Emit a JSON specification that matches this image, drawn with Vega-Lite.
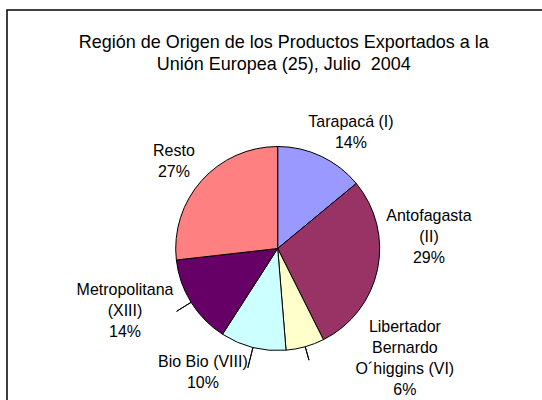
{
  "$schema": "https://vega.github.io/schema/vega-lite/v6.json",
  "width": 541.4,
  "height": 477,
  "autosize": {"type": "none"},
  "padding": {"left": 7, "top": 10, "right": 0, "bottom": 0},
  "background": "white",
  "view": {"stroke": "black", "strokeWidth": 1.5},
  "config": {
    "view": {"stroke": "black", "strokeWidth": 1.5},
    "font": "Liberation Sans",
    "text": {"font": "Liberation Sans"}
  },
  "title": {
    "text": ["Región de Origen de los Productos Exportados a la", "Unión Europea (25), Julio \u00a02004"],
    "orient": "top",
    "anchor": "middle",
    "frame": "group",
    "baseline": "top",
    "offset": 0,
    "dy": 64,
    "dx": 6,
    "fontSize": 18,
    "fontWeight": "normal",
    "font": "Liberation Sans",
    "color": "black",
    "lineHeight": 22.5
  },
  "data": {
    "values": [
      {"orden": 1, "region": "Tarapacá (I)", "pct": 14.0, "label": "Tarapacá (I)\n14%"},
      {"orden": 2, "region": "Antofagasta (II)", "pct": 28.6, "label": "Antofagasta\n(II)\n29%"},
      {"orden": 3, "region": "Libertador Bernardo O´higgins (VI)", "pct": 6.1, "label": "Libertador\nBernardo\nO´higgins (VI)\n6%"},
      {"orden": 4, "region": "Bio Bio (VIII)", "pct": 10.4, "label": "Bio Bio (VIII)\n10%"},
      {"orden": 5, "region": "Metropolitana (XIII)", "pct": 14.1, "label": "Metropolitana\n(XIII)\n14%"},
      {"orden": 6, "region": "Resto", "pct": 26.8, "label": "Resto\n27%"}
    ]
  },
  "encoding": {
    "theta": {"field": "pct", "type": "quantitative", "stack": true},
    "order": {"field": "orden", "type": "ordinal"}
  },
  "layer": [
    {
      "mark": {"type": "arc", "outerRadius": 102, "stroke": "black", "strokeWidth": 1},
      "encoding": {
        "color": {
          "field": "region",
          "type": "nominal",
          "legend": null,
          "scale": {
            "domain": ["Tarapacá (I)", "Antofagasta (II)", "Libertador Bernardo O´higgins (VI)", "Bio Bio (VIII)", "Metropolitana (XIII)", "Resto"],
            "range": ["#9999FF", "#993366", "#FFFFCC", "#CCFFFF", "#660066", "#FF8080"]
          }
        }
      }
    },
    {
      "mark": {"type": "arc", "innerRadius": 102, "outerRadius": 119, "padAngle": 3, "fillOpacity": 0, "stroke": "black", "strokeWidth": 1},
      "encoding": {
        "strokeOpacity": {"condition": {"test": "datum.orden == 5", "value": 1}, "value": 0}
      }
    },
    {
      "mark": {"type": "arc", "innerRadius": 102, "outerRadius": 123, "padAngle": 3, "fillOpacity": 0, "stroke": "black", "strokeWidth": 1},
      "encoding": {
        "strokeOpacity": {"condition": {"test": "datum.orden == 4", "value": 1}, "value": 0}
      }
    },
    {
      "mark": {"type": "arc", "innerRadius": 102, "outerRadius": 116, "padAngle": 3, "fillOpacity": 0, "stroke": "black", "strokeWidth": 1},
      "encoding": {
        "strokeOpacity": {"condition": {"test": "datum.orden == 3", "value": 1}, "value": 0}
      }
    },
    {
      "mark": {"type": "text", "radius": 150, "dx": 9.4, "dy": 9.7, "align": "center", "baseline": "middle", "lineBreak": "\n", "lineHeight": 21, "fontSize": 16, "color": "black"},
      "encoding": {"text": {"condition": {"test": "datum.orden == 1", "field": "label"}, "value": ""}}
    },
    {
      "mark": {"type": "text", "radius": 150, "dx": 4.5, "dy": -63.4, "align": "center", "baseline": "middle", "lineBreak": "\n", "lineHeight": 21, "fontSize": 16, "color": "black"},
      "encoding": {"text": {"condition": {"test": "datum.orden == 2", "field": "label"}, "value": ""}}
    },
    {
      "mark": {"type": "text", "radius": 150, "dx": 86.7, "dy": -66.4, "align": "center", "baseline": "middle", "lineBreak": "\n", "lineHeight": 21, "fontSize": 16, "color": "black"},
      "encoding": {"text": {"condition": {"test": "datum.orden == 3", "field": "label"}, "value": ""}}
    },
    {
      "mark": {"type": "text", "radius": 150, "dx": -38.4, "dy": -32, "align": "center", "baseline": "middle", "lineBreak": "\n", "lineHeight": 21, "fontSize": 16, "color": "black"},
      "encoding": {"text": {"condition": {"test": "datum.orden == 4", "field": "label"}, "value": ""}}
    },
    {
      "mark": {"type": "text", "radius": 150, "dx": -25.3, "dy": -37.3, "align": "center", "baseline": "middle", "lineBreak": "\n", "lineHeight": 21, "fontSize": 16, "color": "black"},
      "encoding": {"text": {"condition": {"test": "datum.orden == 5", "field": "label"}, "value": ""}}
    },
    {
      "mark": {"type": "text", "radius": 150, "dx": 8.1, "dy": 2, "align": "center", "baseline": "middle", "lineBreak": "\n", "lineHeight": 21, "fontSize": 16, "color": "black"},
      "encoding": {"text": {"condition": {"test": "datum.orden == 6", "field": "label"}, "value": ""}}
    }
  ]
}
